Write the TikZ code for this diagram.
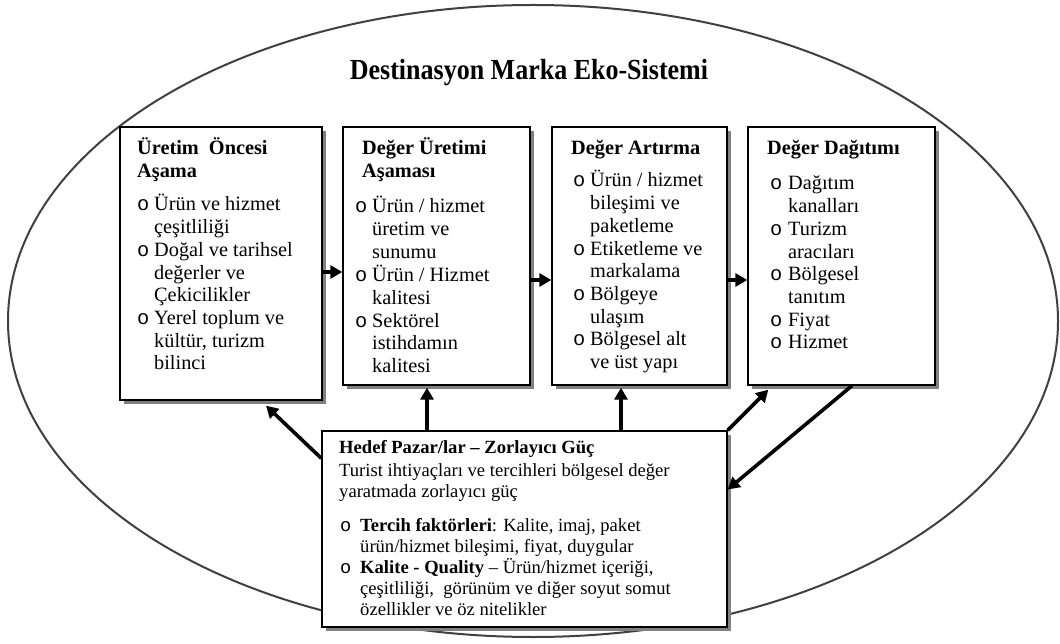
\documentclass[tikz,border=0pt]{standalone}
\usepackage{fontspec}
\setmainfont{Liberation Serif}
\newfontfamily\bulletfont{Liberation Mono}
\usetikzlibrary{arrows.meta,shadows}

% bullet cell of a list row
\newcommand{\bul}[1]{\makebox[#1][l]{\bulletfont o}}

\begin{document}
\begin{tikzpicture}[x=1pt,y=-1pt,
  stage/.style={draw=black, line width=1.3pt, fill=white, rectangle, inner sep=0pt,
    general shadow={fill=black!50, shadow xshift=4pt, shadow yshift=-4pt}},
  stagetext/.style={anchor=base west, inner sep=0pt, font=\fontsize{20.3}{22.7}\selectfont},
  basetext/.style={anchor=base west, inner sep=0pt, font=\fontsize{18.6}{21}\selectfont},
  arr/.style={line width=3.6pt, -{Triangle[length=12pt,width=13pt]}}
]
\useasboundingbox (0,0) rectangle (1060,644);

% outer ecosystem ellipse
\draw[line width=2pt, black!75] (533,321) ellipse [x radius=525pt, y radius=316pt];

\node[anchor=base, inner sep=0pt, font=\fontsize{26}{30}\selectfont\bfseries] (title) at (529,80)
  {\scalebox{1}[1.12]{Destinasyon Marka Eko-Sistemi}};

% four value-chain stages
\node[stage, minimum width=202pt, minimum height=273pt] (b1) at (221,263.5) {};
\node[stage, minimum width=187pt, minimum height=258pt] (b2) at (436.5,256) {};
\node[stage, minimum width=175pt, minimum height=258pt] (b3) at (639.5,256) {};
\node[stage, minimum width=187pt, minimum height=258pt] (b4) at (841.5,256) {};

% target market box
\node[stage, minimum width=405pt, minimum height=196pt] (hp) at (524.5,529) {};

% stage 1
\node[stagetext] (t1) at (137,155) {\begin{tabular}[t]{@{}l@{}}\bfseries Üretim\ \ Öncesi\\\bfseries Aşama\end{tabular}};
\node[stagetext] (l1) at (137,211) {\begin{tabular}[t]{@{}l@{}l@{}}
  \bul{17pt} & Ürün ve hizmet\\ & çeşitliliği\\
  \bul{17pt} & Doğal ve tarihsel\\ & değerler ve\\ & Çekicilikler\\
  \bul{17pt} & Yerel toplum ve\\ & kültür, turizm\\ & bilinci
\end{tabular}};

% stage 2
\node[stagetext] (t2) at (362,155) {\begin{tabular}[t]{@{}l@{}}\bfseries Değer Üretimi\\\bfseries Aşaması\end{tabular}};
\node[stagetext] (l2) at (355,213) {\begin{tabular}[t]{@{}l@{}l@{}}
  \bul{17pt} & Ürün / hizmet\\ & üretim ve\\ & sunumu\\
  \bul{17pt} & Ürün / Hizmet\\ & kalitesi\\
  \bul{17pt} & Sektörel\\ & istihdamın\\ & kalitesi
\end{tabular}};

% stage 3
\node[stagetext] (t3) at (571,155) {\bfseries Değer Artırma};
\node[stagetext] (l3) at (573,187) {\begin{tabular}[t]{@{}l@{}l@{}}
  \bul{17pt} & Ürün / hizmet\\ & bileşimi ve\\ & paketleme\\
  \bul{17pt} & Etiketleme ve\\ & markalama\\
  \bul{17pt} & Bölgeye\\ & ulaşım\\
  \bul{17pt} & Bölgesel alt\\ & ve üst yapı
\end{tabular}};

% stage 4
\node[stagetext] (t4) at (767,155) {\bfseries Değer Dağıtımı};
\node[stagetext] (l4) at (770,190) {\begin{tabular}[t]{@{}l@{}l@{}}
  \bul{18pt} & Dağıtım\\ & kanalları\\
  \bul{18pt} & Turizm\\ & aracıları\\
  \bul{18pt} & Bölgesel\\ & tanıtım\\
  \bul{18pt} & Fiyat\\
  \bul{18pt} & Hizmet
\end{tabular}};

% target market text
\node[basetext] (th) at (339,453) {\bfseries Hedef Pazar/lar -- Zorlayıcı Güç};
\node[basetext] (tb) at (339,476) {\begin{tabular}[t]{@{}l@{}}
  Turist ihtiyaçları ve tercihleri bölgesel değer\\
  yaratmada zorlayıcı güç
\end{tabular}};
\node[basetext] (lh) at (340,531) {\begin{tabular}[t]{@{}l@{}l@{}}
  \bul{20pt} & \textbf{Tercih faktörleri}: Kalite, imaj, paket\\
  & ürün/hizmet bileşimi, fiyat, duygular\\
  \bul{20pt} & \textbf{Kalite - Quality} -- Ürün/hizmet içeriği,\\
  & çeşitliliği,\ \ görünüm ve diğer soyut somut\\
  & özellikler ve öz nitelikler
\end{tabular}};

% chain arrows between stages
\coordinate (s12) at ([yshift=-8.5pt]b1.east);
\coordinate (s23) at ([yshift=-24pt]b2.east);
\coordinate (s34) at ([yshift=-24pt]b3.east);
\draw[arr] (s12) -- (s12 -| b2.west);
\draw[arr] (s23) -- (s23 -| b3.west);
\draw[arr] (s34) -- (s34 -| b4.west);

% market pressure arrows
\coordinate (d1s) at ([yshift=-28pt]hp.north west);
\coordinate (d1e) at ([xshift=45pt,yshift=-5pt]b1.south);
\draw[arr] (d1s) -- (d1e);

\coordinate (u2) at ([xshift=-97.5pt]hp.north);
\coordinate (u3) at ([xshift=96.5pt]hp.north);
\draw[arr] (u2) -- ([yshift=-2pt]u2 |- b2.south);
\draw[arr] (u3) -- ([yshift=-2pt]u3 |- b3.south);

\coordinate (d4e) at ([xshift=21pt,yshift=-4pt]b4.south west);
\draw[arr] (hp.north east) -- (d4e);

\coordinate (d5s) at ([xshift=10.5pt]b4.south);
\coordinate (d5e) at ([yshift=39.5pt]hp.east);
\draw[arr] (d5s) -- (d5e);
\end{tikzpicture}
\end{document}
